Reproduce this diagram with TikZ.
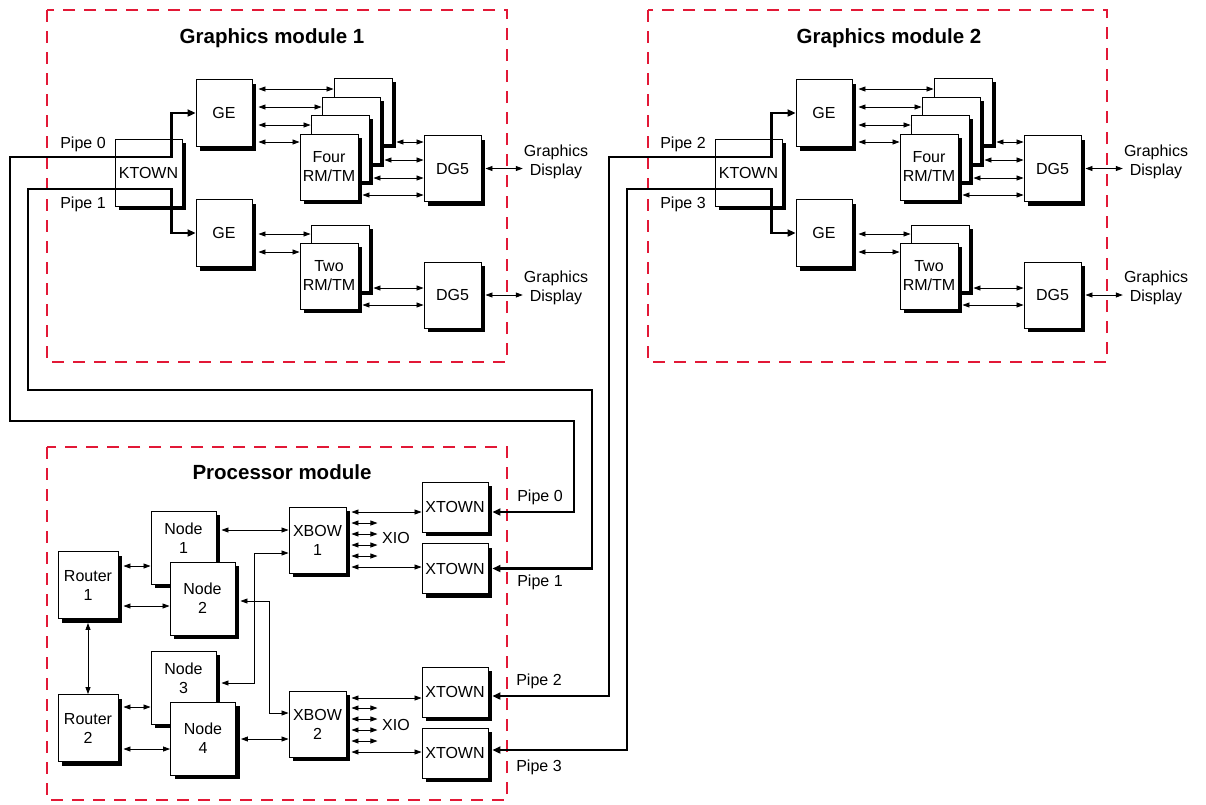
\documentclass[tikz,border=0pt]{standalone}
\usepackage{fontspec}
\setmainfont{Liberation Sans}
\usepackage{tikz}
\usetikzlibrary{arrows.meta,shadows}
\definecolor{moduleRed}{RGB}{226,24,54}

\begin{document}
\begin{tikzpicture}[x=1pt,y=-1pt,
    every node/.style={font=\fontsize{16}{19}\selectfont,align=center},
    unitbox/.style={draw,fill=white,line width=0.9pt,inner sep=0pt,
        drop shadow={shadow xshift=4pt,shadow yshift=-4pt,fill=black,opacity=1}},
    ktown/.style={unitbox,minimum width=67pt,minimum height=67pt},
    gebox/.style={unitbox,minimum width=56pt,minimum height=67pt},
    rmtm/.style={unitbox,minimum width=58pt,minimum height=66pt},
    dgbox/.style={unitbox,minimum width=57pt,minimum height=66pt},
    router/.style={unitbox,minimum width=60pt,minimum height=67pt},
    cpu/.style={unitbox,minimum width=65pt,minimum height=73pt},
    xbow/.style={unitbox,minimum width=57pt,minimum height=66pt},
    xtown/.style={unitbox,minimum width=66pt,minimum height=50pt},
    modframe/.style={draw=moduleRed,line width=2.6pt,dash pattern=on 12pt off 9pt},
    modtitle/.style={font=\fontsize{20.5}{24}\selectfont\bfseries},
    link/.style={line width=0.8pt,{Triangle[length=7pt,width=5pt]}-{Triangle[length=7pt,width=5pt]}},
    pipe/.style={line width=2.6pt,{Triangle[length=8pt,width=7pt]}-{Triangle[length=8pt,width=7pt]}}]

    \fill[white] (0,0) rectangle (1206,804);

    % Module frames
    \draw[modframe] (47,10) rectangle (507,362);
    \draw[modframe] (648,10) rectangle (1107,362);
    \draw[modframe] (47,447) rectangle (507,800);
    \node[modtitle] (gm1title) at (272,38) {Graphics module 1};
    \node[modtitle] (gm2title) at (889,38) {Graphics module 2};
    \node[modtitle] (pmtitle) at (282,472) {Processor module};

    % Graphics module 1
    \node[ktown] (ktown1) at (148.5,172.5) {KTOWN};
    \node[gebox] (ge1a) at (224,113) {GE};
    \node[gebox] (ge1b) at (224,233) {GE};
    \node[rmtm] (four1d) at (363,111) {};
    \node[rmtm] (four1c) at (351,130) {};
    \node[rmtm] (four1b) at (340,148) {};
    \node[rmtm] (four1a) at (329,167) {Four\\RM/TM};
    \node[rmtm] (two1b) at (340,258) {};
    \node[rmtm] (two1a) at (329,276) {Two\\RM/TM};
    \node[dgbox] (dg1a) at (452.5,168.5) {DG5};
    \node[dgbox] (dg1b) at (452.5,295) {DG5};
    \node[inner sep=1pt] (disp1a) at (556,162) {Graphics\\Display};
    \node[inner sep=1pt] (disp1b) at (556,288) {Graphics\\Display};
    \node (pipe0g) at (83,144) {Pipe 0};
    \node (pipe1g) at (83,204) {Pipe 1};

    \draw[link] ([xshift=6pt]ge1a.east |- 0,89) -- (four1d.west |- 0,89);
    \draw[link] ([xshift=6pt]ge1a.east |- 0,107) -- (four1c.west |- 0,107);
    \draw[link] ([xshift=6pt]ge1a.east |- 0,125) -- (four1b.west |- 0,125);
    \draw[link] ([xshift=6pt]ge1a.east |- 0,142) -- (four1a.west |- 0,142);
    \draw[link] ([xshift=4pt]four1d.east |- 0,142) -- (dg1a.west |- 0,142);
    \draw[link] ([xshift=4pt]four1c.east |- 0,160) -- (dg1a.west |- 0,160);
    \draw[link] ([xshift=4pt]four1b.east |- 0,178) -- (dg1a.west |- 0,178);
    \draw[link] ([xshift=4pt]four1a.east |- 0,195) -- (dg1a.west |- 0,195);
    \draw[link] ([xshift=6pt]ge1b.east |- 0,234) -- (two1b.west |- 0,234);
    \draw[link] ([xshift=6pt]ge1b.east |- 0,252) -- (two1a.west |- 0,252);
    \draw[link] ([xshift=4pt]two1b.east |- 0,288) -- (dg1b.west |- 0,288);
    \draw[link] ([xshift=4pt]two1a.east |- 0,305) -- (dg1b.west |- 0,305);
    \draw[link] ([xshift=4pt]dg1a.east) -- (dg1a.east -| disp1a.west);
    \draw[link] ([xshift=4pt]dg1b.east) -- (dg1b.east -| disp1b.west);

    % Graphics module 2
    \node[ktown] (ktown2) at (748.5,172.5) {KTOWN};
    \node[gebox] (ge2a) at (824,113) {GE};
    \node[gebox] (ge2b) at (824,233) {GE};
    \node[rmtm] (four2d) at (963,111) {};
    \node[rmtm] (four2c) at (951,130) {};
    \node[rmtm] (four2b) at (940,148) {};
    \node[rmtm] (four2a) at (929,167) {Four\\RM/TM};
    \node[rmtm] (two2b) at (940,258) {};
    \node[rmtm] (two2a) at (929,276) {Two\\RM/TM};
    \node[dgbox] (dg2a) at (1052.5,168.5) {DG5};
    \node[dgbox] (dg2b) at (1052.5,295) {DG5};
    \node[inner sep=1pt] (disp2a) at (1156,162) {Graphics\\Display};
    \node[inner sep=1pt] (disp2b) at (1156,288) {Graphics\\Display};
    \node (pipe2g) at (683,144) {Pipe 2};
    \node (pipe3g) at (683,204) {Pipe 3};

    \draw[link] ([xshift=6pt]ge2a.east |- 0,89) -- (four2d.west |- 0,89);
    \draw[link] ([xshift=6pt]ge2a.east |- 0,107) -- (four2c.west |- 0,107);
    \draw[link] ([xshift=6pt]ge2a.east |- 0,125) -- (four2b.west |- 0,125);
    \draw[link] ([xshift=6pt]ge2a.east |- 0,142) -- (four2a.west |- 0,142);
    \draw[link] ([xshift=4pt]four2d.east |- 0,142) -- (dg2a.west |- 0,142);
    \draw[link] ([xshift=4pt]four2c.east |- 0,160) -- (dg2a.west |- 0,160);
    \draw[link] ([xshift=4pt]four2b.east |- 0,178) -- (dg2a.west |- 0,178);
    \draw[link] ([xshift=4pt]four2a.east |- 0,195) -- (dg2a.west |- 0,195);
    \draw[link] ([xshift=6pt]ge2b.east |- 0,234) -- (two2b.west |- 0,234);
    \draw[link] ([xshift=6pt]ge2b.east |- 0,252) -- (two2a.west |- 0,252);
    \draw[link] ([xshift=4pt]two2b.east |- 0,288) -- (dg2b.west |- 0,288);
    \draw[link] ([xshift=4pt]two2a.east |- 0,305) -- (dg2b.west |- 0,305);
    \draw[link] ([xshift=4pt]dg2a.east) -- (dg2a.east -| disp2a.west);
    \draw[link] ([xshift=4pt]dg2b.east) -- (dg2b.east -| disp2b.west);

    % Processor module
    \node[router] (router1) at (88,585) {Router\\1};
    \node[router] (router2) at (88,728) {Router\\2};
    \node[cpu] (node1) at (183.5,547.5) {\parbox[c][50pt][t]{60pt}{\centering Node\\1}};
    \node[cpu] (node2) at (202.5,598.5) {Node\\2};
    \node[cpu] (node3) at (183.5,687.5) {\parbox[c][50pt][t]{60pt}{\centering Node\\3}};
    \node[cpu] (node4) at (203,738.5) {Node\\4};
    \node[xbow] (xbow1) at (317.5,540) {XBOW\\1};
    \node[xbow] (xbow2) at (317.5,724) {XBOW\\2};
    \node[xtown] (xtown0) at (455,507) {XTOWN};
    \node[xtown] (xtown1) at (455,568.5) {XTOWN};
    \node[xtown] (xtown2) at (455,692) {XTOWN};
    \node[xtown] (xtown3) at (455,753) {XTOWN};
    \node (xio1) at (396,538) {XIO};
    \node (xio2) at (396,725) {XIO};
    \node (pipe0p) at (540,497) {Pipe 0};
    \node (pipe1p) at (540,582) {Pipe 1};
    \node (pipe2p) at (539,681) {Pipe 2};
    \node (pipe3p) at (539,767) {Pipe 3};

    \draw[link] ([xshift=5pt]router1.east |- 0,566) -- (node1.west |- 0,566);
    \draw[link] ([xshift=5pt]router1.east |- 0,606) -- (node2.west |- 0,606);
    \draw[link] ([yshift=-4pt]router1.south) -- (router2.north);
    \draw[link] ([xshift=5pt]router2.east |- 0,707) -- (node3.west |- 0,707);
    \draw[link] ([xshift=5pt]router2.east |- 0,749) -- (node4.west |- 0,749);
    \draw[link] ([xshift=5pt]node1.east |- 0,530) -- (xbow1.west |- 0,530);
    \draw[link] ([xshift=5pt]node4.east |- 0,739) -- (xbow2.west |- 0,739);
    \draw[link] (xbow1.west |- 0,553) -| (254,683) -- ([xshift=5pt]node3.east |- 0,683);
    \draw[link] ([xshift=5pt]node2.east |- 0,601) -| (269,713) -- (xbow2.west |- 0,713);

    \draw[link] ([xshift=5pt]xbow1.east |- 0,512) -- (xtown0.west |- 0,512);
    \draw[link] ([xshift=5pt]xbow1.east |- 0,523) -- ++(26,0);
    \draw[link] ([xshift=5pt]xbow1.east |- 0,534) -- ++(26,0);
    \draw[link] ([xshift=5pt]xbow1.east |- 0,545) -- ++(26,0);
    \draw[link] ([xshift=5pt]xbow1.east |- 0,556) -- ++(26,0);
    \draw[link] ([xshift=5pt]xbow1.east |- 0,567) -- (xtown1.west |- 0,567);
    \draw[link] ([xshift=5pt]xbow2.east |- 0,698) -- (xtown2.west |- 0,698);
    \draw[link] ([xshift=5pt]xbow2.east |- 0,708) -- ++(26,0);
    \draw[link] ([xshift=5pt]xbow2.east |- 0,719) -- ++(26,0);
    \draw[link] ([xshift=5pt]xbow2.east |- 0,730) -- ++(26,0);
    \draw[link] ([xshift=5pt]xbow2.east |- 0,741) -- ++(26,0);
    \draw[link] ([xshift=5pt]xbow2.east |- 0,752) -- (xtown3.west |- 0,752);

    % Pipes
    \draw[pipe] ([shift={(4,5)}]xtown0.east) -| (574,421) -| (10,157) -| ([xshift=-24pt]ge1a.west) -- (ge1a.west);
    \draw[pipe] ([xshift=4pt]xtown1.east) -| (592,390) -| (28,189) -| ([xshift=-24pt]ge1b.west) -- (ge1b.west);
    \draw[pipe] ([shift={(4,4)}]xtown2.east) -| (609,157) -| ([xshift=-24pt]ge2a.west) -- (ge2a.west);
    \draw[pipe] ([shift={(4,-3)}]xtown3.east) -| (627,189) -| ([xshift=-24pt]ge2b.west) -- (ge2b.west);
\end{tikzpicture}
\end{document}
